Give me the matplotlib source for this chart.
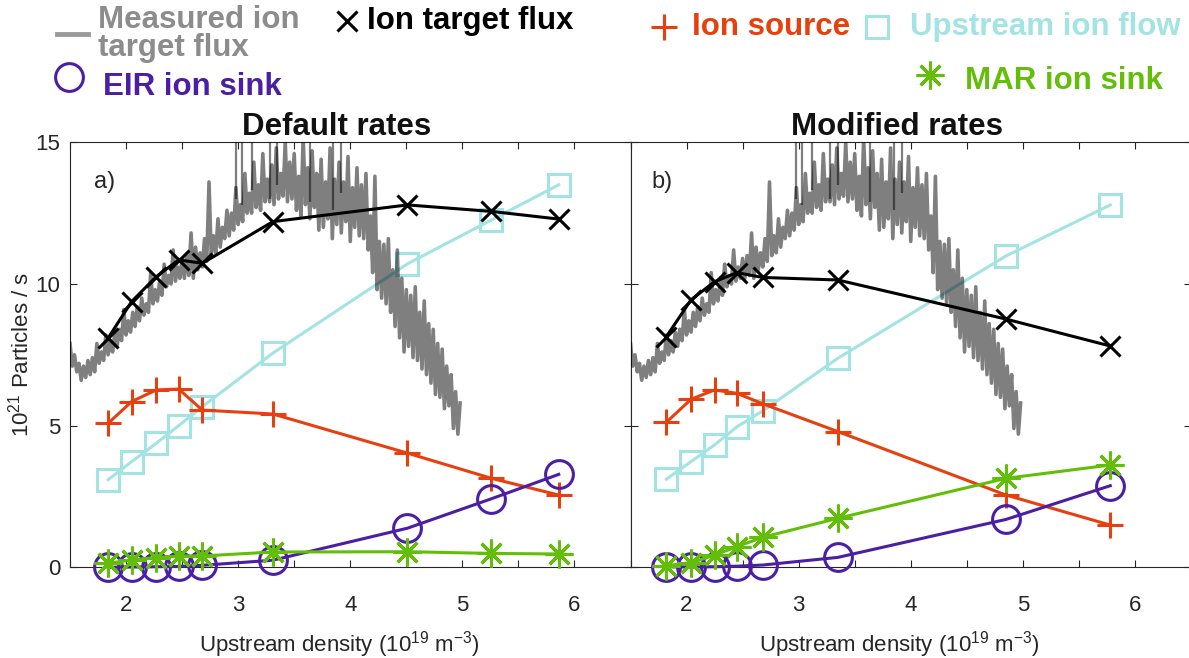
import numpy as np
import matplotlib
matplotlib.use("Agg")
import matplotlib.pyplot as plt
from matplotlib.lines import Line2D
from matplotlib.ticker import FixedLocator, MultipleLocator

# upstream density (10^19 m^-3) of the simulation points
dens_a = [1.84, 2.05, 2.27, 2.47, 2.68, 3.31, 4.51, 5.26, 5.86]
dens_b = [1.82, 2.04, 2.25, 2.45, 2.68, 3.35, 4.85, 5.78]

# a) default rates  (10^21 particles / s)
target_a = [8.09, 9.38, 10.26, 10.85, 10.73, 12.20, 12.79, 12.56, 12.29]
source_a = [5.08, 5.85, 6.26, 6.29, 5.55, 5.41, 4.03, 3.14, 2.55]
upstream_a = [3.09, 3.73, 4.38, 5.00, 5.67, 7.56, 10.71, 12.26, 13.50]
eir_a = [0.0, 0.01, 0.02, 0.03, 0.07, 0.25, 1.38, 2.42, 3.28]
mar_a = [0.14, 0.26, 0.34, 0.40, 0.40, 0.54, 0.55, 0.49, 0.47]

# b) modified rates
target_b = [8.14, 9.44, 10.08, 10.40, 10.23, 10.14, 8.76, 7.81]
source_b = [5.12, 5.93, 6.26, 6.14, 5.77, 4.79, 2.55, 1.49]
upstream_b = [3.11, 3.73, 4.32, 4.96, 5.52, 7.38, 10.99, 12.79]
eir_b = [0.02, 0.01, 0.02, 0.04, 0.08, 0.35, 1.69, 2.88]
mar_b = [0.06, 0.16, 0.43, 0.73, 1.06, 1.73, 3.14, 3.61]

# measured ion target flux (density 1.5 .. 4.98)
meas_flux = [
    7.9, 7.1, 7.5, 6.9, 7.2, 6.6, 7.1, 6.7, 7.3, 6.8,
    7.4, 6.9, 7.9, 7.2, 7.6, 7.3, 8.2, 7.5, 8.0, 7.6,
    8.3, 7.8, 8.4, 8.0, 9.1, 8.2, 8.7, 8.3, 9.0, 8.5,
    9.2, 8.7, 9.5, 8.9, 9.3, 9.0, 10.4, 9.3, 9.8, 9.4,
    10.1, 9.6, 10.7, 9.9, 10.3, 10.0, 11.2, 10.1, 10.6, 10.2,
    10.9, 10.2, 11.0, 10.3, 11.8, 10.2, 11.3, 10.5, 11.1, 10.6,
    11.6, 10.8, 13.6, 11.0, 11.7, 11.1, 12.3, 11.3, 12.0, 11.6,
    12.6, 11.7, 12.5, 11.9, 13.4, 12.1, 12.8, 12.2, 13.9, 12.5,
    13.2, 12.5, 14.3, 12.7, 13.5, 12.6, 14.6, 12.9, 13.7, 12.9,
    14.2, 12.8, 14.8, 13.0, 13.9, 13.1, 15.0, 12.9, 14.3, 13.0,
    14.6, 12.6, 13.8, 12.4, 15.2, 12.8, 14.1, 12.3, 14.7, 12.7,
    13.9, 11.9, 14.4, 12.0, 13.6, 12.3, 14.8, 11.6, 13.7, 12.1,
    14.3, 11.8, 13.6, 12.2, 14.5, 11.5, 13.4, 12.0, 14.1, 11.7,
    13.5, 11.6, 13.9, 11.2, 12.4, 10.4, 13.8, 9.8, 11.5, 9.5,
    11.4, 9.3, 11.6, 9.0, 10.5, 8.5, 11.2, 8.1, 10.2, 7.6,
    9.8, 7.8, 9.6, 7.4, 9.9, 7.3, 9.0, 7.0, 9.4, 6.8,
    8.6, 6.5, 8.4, 6.1, 7.9, 6.0, 7.7, 5.6, 7.1, 5.7,
    6.8, 4.9, 6.2, 4.7, 5.8,
]
meas_dens = np.linspace(1.5, 4.98, len(meas_flux))
# spikes going off the top of the plot
spike_dens = [2.98, 3.03, 3.12, 3.28, 3.35, 3.64, 3.85, 3.92]
spike_lo = [13.0, 12.8, 13.3, 13.0, 13.5, 12.9, 12.6, 13.2]

c_red = '#E6400F'
c_cyan = '#A3E3E3'
c_purple = '#4B1FA3'
c_green = '#63BE0A'
c_axis = '#262626'

plt.rcParams['font.family'] = ['Liberation Sans', 'DejaVu Sans']
plt.rcParams['mathtext.fontset'] = 'custom'
plt.rcParams['mathtext.rm'] = 'Liberation Sans'
plt.rcParams['mathtext.default'] = 'rm'
plt.rcParams['axes.edgecolor'] = c_axis
plt.rcParams['axes.linewidth'] = 0.8

W, H = 1189, 658
fig = plt.figure(figsize=(W / 100, H / 100), dpi=100)
ax_a = fig.add_axes([70 / W, 1 - 567.3 / H, 560.5 / W, 425 / H])
ax_b = fig.add_axes([630.5 / W, 1 - 567.3 / H, 560.5 / W, 425 / H])


def draw_panel(ax, dens, target, source, upstream, eir, mar, tag, title):
    ax.plot(dens, upstream, color=c_cyan, lw=2.2, marker='s', ms=16, mfc='none', mew=2.2, zorder=2, clip_on=False)
    ax.plot(meas_dens, meas_flux, color='k', alpha=0.5, lw=2.6, zorder=3)
    ax.vlines(spike_dens, spike_lo, 16, color='k', alpha=0.5, lw=1.6, zorder=3)
    ax.plot(dens, target, color='k', lw=2.2, marker='x', ms=14, mew=2.2, zorder=4, clip_on=False)
    ax.plot(dens, source, color=c_red, lw=2.2, marker='+', ms=19, mew=2.2, zorder=4, clip_on=False)
    ax.plot(dens, eir, color=c_purple, lw=2.2, marker='o', ms=20, mfc='none', mew=2.2, zorder=4, clip_on=False)
    ax.plot(dens, mar, color=c_green, lw=2.2, marker=(8, 2, 0), ms=20, mew=2.2, zorder=5, clip_on=False)

    ax.set_xlim(1.5, 6.5)
    ax.set_ylim(0, 15)
    ax.xaxis.set_major_locator(FixedLocator([2, 3, 4, 5, 6]))
    ax.xaxis.set_minor_locator(MultipleLocator(0.5))
    ax.yaxis.set_major_locator(FixedLocator([0, 5, 10, 15]))
    ax.tick_params(which='both', direction='in', top=True, right=True, length=5, width=0.8,
                   color=c_axis, labelcolor=c_axis, labelsize=16)
    ax.tick_params(axis='x', pad=20)
    ax.tick_params(axis='y', pad=7)
    ax.set_xlabel('Upstream density (10$^{19}$ m$^{-3}$)', fontsize=16, color=c_axis)
    ax.xaxis.set_label_coords(0.48, -0.145)
    ax.text(dens[0] - 0.13, 13.6, tag, fontsize=17, color=c_axis, va='center')
    ax.set_title(title, fontsize=22.5, fontweight='bold', pad=4, color='#111111')
    ax.title.set_x(0.475)


draw_panel(ax_a, dens_a, target_a, source_a, upstream_a, eir_a, mar_a, 'a)', 'Default rates')
draw_panel(ax_b, dens_b, target_b, source_b, upstream_b, eir_b, mar_b, 'b)', 'Modified rates')
ax_a.set_ylabel('10$^{21}$ Particles / s', fontsize=16, color=c_axis)
ax_a.yaxis.set_label_coords(-0.066, 0.5)
ax_b.tick_params(axis='y', labelleft=False)

# legend, laid out by hand like the original
def fx(px):
    return px / W


def fy(py):
    return 1 - py / H


leg_font = dict(fontsize=22.5, fontweight='bold', va='center', ha='left')
fig.add_artist(Line2D([fx(57), fx(88)], [fy(34), fy(34)], color='#9A9A9A', lw=3.5))
fig.text(fx(98), fy(34), 'Measured ion\ntarget flux', color='#8C8C8C', linespacing=0.92, **leg_font)
fig.add_artist(Line2D([fx(347)], [fy(21)], color='k', marker='x', ms=14, mew=2.2, ls='none'))
fig.text(fx(367), fy(21), 'Ion target flux', color='k', **leg_font)
fig.add_artist(Line2D([fx(664)], [fy(27)], color=c_red, marker='+', ms=19, mew=2.2, ls='none'))
fig.text(fx(692), fy(27), 'Ion source', color=c_red, **leg_font)
fig.add_artist(Line2D([fx(877)], [fy(27)], color=c_cyan, marker='s', ms=16, mfc='none', mew=2.2, ls='none'))
fig.text(fx(910), fy(27), 'Upstream ion flow', color=c_cyan, **leg_font)
fig.add_artist(Line2D([fx(69)], [fy(77)], color=c_purple, marker='o', ms=20, mfc='none', mew=2.2, ls='none'))
fig.text(fx(103), fy(87), 'EIR ion sink', color=c_purple, **leg_font)
fig.add_artist(Line2D([fx(930)], [fy(75)], color=c_green, marker=(8, 2, 0), ms=20, mew=2.2, ls='none'))
fig.text(fx(965), fy(81), 'MAR ion sink', color=c_green, **leg_font)

fig.savefig('out.png', dpi=100)
